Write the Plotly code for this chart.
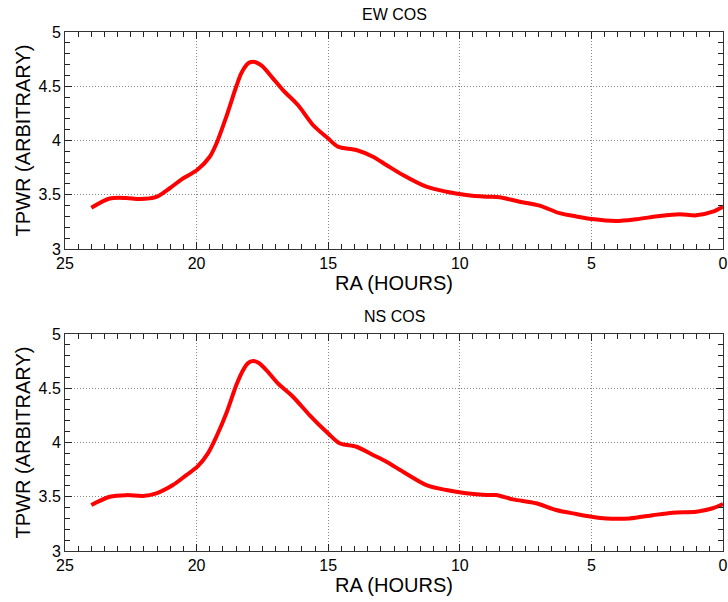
import plotly.graph_objects as go
from plotly.subplots import make_subplots

ew_ra = [24.0, 23.30, 22.67, 22.16, 21.53, 21.02, 20.58, 19.97, 19.50, 19.25, 18.87, 18.49, 18.30, 18.11,
         17.98, 17.86, 17.70, 17.48, 17.10, 16.72, 16.15, 15.58, 15.01, 14.63, 13.93, 13.30, 12.79, 12.16, 11.27,
         10.51, 9.76, 9.00, 8.49, 7.73, 6.97, 6.21, 5.58, 4.99, 4.06, 3.30, 2.41, 1.65, 1.02, 0.39, 0.0]
ew_val = [3.38, 3.465, 3.47, 3.46, 3.48, 3.56, 3.64, 3.73, 3.85, 3.97, 4.22, 4.50, 4.62, 4.695,
          4.72, 4.726, 4.715, 4.68, 4.573, 4.465, 4.327, 4.143, 4.02, 3.943, 3.912, 3.85, 3.774, 3.682, 3.574,
          3.528, 3.498, 3.482, 3.477, 3.436, 3.40, 3.33, 3.30, 3.276, 3.258, 3.274, 3.304, 3.32, 3.31, 3.344, 3.39]

ns_ra = [24.0, 23.30, 22.67, 22.04, 21.53, 20.90, 20.39, 19.97, 19.57, 19.25, 18.87, 18.49, 18.25, 18.05,
         17.93, 17.83, 17.65, 17.35, 16.91, 16.34, 15.71, 15.01, 14.57, 13.93, 13.30, 12.79, 12.16, 11.27, 10.51,
         9.76, 9.00, 8.62, 7.98, 7.10, 6.34, 5.58, 4.99, 4.44, 3.55, 2.67, 1.91, 1.02, 0.39, 0.0]
ns_val = [3.424, 3.50, 3.515, 3.507, 3.532, 3.608, 3.70, 3.777, 3.90, 4.053, 4.27, 4.53, 4.66, 4.73,
          4.747, 4.751, 4.735, 4.668, 4.545, 4.422, 4.253, 4.085, 3.993, 3.961, 3.885, 3.823, 3.731, 3.608, 3.562,
          3.532, 3.516, 3.516, 3.476, 3.44, 3.378, 3.341, 3.316, 3.30, 3.30, 3.33, 3.353, 3.362, 3.394, 3.433]

titles = ["EW COS", "NS COS"]
x_title = "RA (HOURS)"
y_title = "TPWR (ARBITRARY)"

fig = make_subplots(rows=2, cols=1, subplot_titles=titles, vertical_spacing=0.1638)

for i, (xs, ys) in enumerate([(ew_ra, ew_val), (ns_ra, ns_val)], start=1):
    fig.add_trace(go.Scatter(x=xs, y=ys, mode="lines", line=dict(color="#ff0000", width=4, shape="spline", smoothing=0.8),
                             showlegend=False), row=i, col=1)

font = "Liberation Sans, Arial, sans-serif"
axcol = "#333333"
gridcol = "#888888"
fig.update_layout(template="simple_white")
for i in (1, 2):
    fig.update_xaxes(range=[25, 0], dtick=5, tick0=0, showline=True, linecolor=axcol, linewidth=1,
                     mirror="allticks", ticks="inside", ticklen=7, tickcolor="#222222", tickwidth=1,
                     minor=dict(dtick=0.5, ticks="inside", ticklen=5, tickcolor="#222222",
                                tickwidth=1, showgrid=False),
                     showgrid=True, gridcolor=gridcol, griddash="1px,2px", gridwidth=1, zeroline=False,
                     automargin=False,
                     tickfont=dict(family=font, size=16, color="#000"), ticklabeloverflow="allow",
                     title=dict(text=x_title, font=dict(family=font, size=20, color="#000"), standoff=2),
                     row=i, col=1)
    fig.update_yaxes(range=[3, 5], dtick=0.5, tick0=0, showline=True, linecolor=axcol, linewidth=1,
                     mirror="allticks", ticks="inside", ticklen=7, tickcolor="#222222", tickwidth=1,
                     minor=dict(dtick=0.1, ticks="inside", ticklen=5, tickcolor="#222222",
                                tickwidth=1, showgrid=False),
                     showgrid=True, gridcolor=gridcol, griddash="1px,2px", gridwidth=1, zeroline=False,
                     automargin=False,
                     tickfont=dict(family=font, size=16, color="#000"),
                     title=dict(text=y_title, font=dict(family=font, size=20, color="#000"), standoff=2),
                     row=i, col=1)

for ann in fig.layout.annotations:
    ann.font = dict(family=font, size=16, color="#000")
    ann.yshift = 7

fig.update_layout(width=728, height=602, margin=dict(l=65, r=5, t=32, b=51),
                  plot_bgcolor="white", paper_bgcolor="white")
fig.write_html("out.html", config={"displayModeBar": False},
               post_script="document.body.style.margin='0';document.body.style.overflow='hidden';")
